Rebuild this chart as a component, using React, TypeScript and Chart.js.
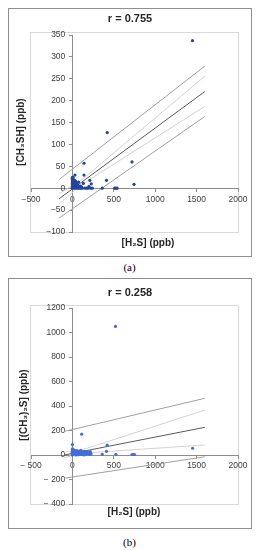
import React, { useEffect, useRef } from "react";
import { Chart, registerables } from "chart.js";
Chart.register(...registerables);

// ---------- Chart (a) data ----------
const titleA = "r = 0.755";
const xTitleA = "[H\u2082S] (ppb)";
const yTitleA = "[CH\u2083SH] (ppb)";
const xTicksA = [-500, 0, 500, 1000, 1500, 2000];
const yTicksA = [-100, -50, 0, 50, 100, 150, 200, 250, 300, 350];
const ptsXA = [1450, 420, 720, 744, 140, 140, 31, 412, 211, 228, 132, 360, 510, 525, 540,
  0, 0, 0, 0, 0, 0, 0, 0, 0, 0, 5, 8, 10, 12, 15, 18, 20, 22, 25, 28, 30, 35, 40, 42, 45, 50, 55, 60, 65, 70, 75, 80, 85, 95, 100, 110, 120, 150, 170, 190, 200, 220, 240];
const ptsYA = [337, 127, 60, 9, 57, 30, 30, 18, 18, 10, 11, 0, 0, 0, 0,
  25, 22, 20, 17, 14, 11, 8, 5, 2, 0, 19, 12, 24, 7, 3, 15, 10, 0, 18, 6, 13, 2, 16, 9, 0, 12, 4, 8, 0, 6, 14, 2, 0, 5, 0, 3, 0, 0, 0, 0, 4, 0, 0];
const fitXA = [-160, 1600];
const fitYA = [-24, 221];
const predUpYA = [20, 279];
const predLoYA = [-68, 164];
const confXA = [-160, 100, 1600];
const confUpYA = [-12, 17, 256];
const confLoYA = [-36, 7, 187];

// ---------- Chart (b) data ----------
const titleB = "r = 0.258";
const xTitleB = "[H\u2082S] (ppb)";
const yTitleB = "[(CH\u2083)\u2082S] (ppb)";
const xTicksB = [-500, 0, 500, 1000, 1500, 2000];
const yTicksB = [-400, -200, 0, 200, 400, 600, 800, 1000, 1200];
const ptsXB = [520, 112, 1452, 420, 412, 360, 525, 720, 735, 750, 0,
  0, 0, 0, 0, 0, 0, 0, 0, 10, 15, 20, 25, 30, 35, 40, 45, 50, 55, 60, 65, 70, 75, 80, 90, 95, 100, 110, 115, 125, 130, 140, 150, 160, 170, 180, 190, 200, 210, 215, 220, 225];
const ptsYB = [1050, 170, 55, 80, 30, 5, 6, 4, 4, 4, 85,
  50, 42, 35, 28, 20, 12, 5, 0, 45, 30, 15, 38, 8, 25, 32, 0, 18, 36, 10, 26, 3, 30, 14, 22, 6, 38, 16, 4, 28, 10, 0, 30, 18, 6, 25, 12, 20, 4, 28, 14, 8];
const fitXB = [-100, 1600];
const fitYB = [0, 226];
const predUpYB = [192, 463];
const predLoYB = [-190, -14];
const confXB = [-100, 100, 1600];
const confUpYB = [22, 38, 367];
const confLoYB = [-22, 14, 82];

const FONT = "'Liberation Sans', Arial, sans-serif";

type Spec = {
  title: string; xTitle: string; yTitle: string;
  xTicks: number[]; yTicks: number[];
  px: number[]; py: number[];
  fitX: number[]; fitY: number[]; predUp: number[]; predLo: number[];
  confX: number[]; confUp: number[]; confLo: number[];
  pointColor: string; minusSpace: boolean;
  height: number; padding: { top: number; bottom: number; left: number; right: number };
  titleY: number; xTitlePos: [number, number]; yTitlePos: [number, number];
};

const zip = (xs: number[], ys: number[]) => xs.map((x, i) => ({ x, y: ys[i] }));

function ScatterBox({ s }: { s: Spec }) {
  const ref = useRef<HTMLCanvasElement | null>(null);
  useEffect(() => {
    if (!ref.current) return;
    const fmt = (v: number) => (v < 0 ? (s.minusSpace ? "\u2212 " : "\u2212") + Math.abs(v) : String(v));
    const decor = {
      id: "decor",
      beforeDraw(chart: any) {
        const { ctx, chartArea: a } = chart;
        ctx.save();
        ctx.strokeStyle = "#d9d9d9";
        ctx.lineWidth = 1;
        ctx.strokeRect(Math.round(a.left) - 0.5, Math.round(a.top) - 2.5, Math.round(a.right - a.left) + 1, Math.round(a.bottom - a.top) + 3);
        ctx.restore();
      },
      afterDraw(chart: any) {
        const { ctx, width } = chart;
        ctx.save();
        ctx.fillStyle = "#262626";
        ctx.textAlign = "center";
        ctx.textBaseline = "middle";
        ctx.font = `bold 11px ${FONT}`;
        ctx.fillText(s.title, width / 2, s.titleY);
        ctx.font = `bold 10px ${FONT}`;
        ctx.fillText(s.xTitle, s.xTitlePos[0], s.xTitlePos[1]);
        ctx.translate(s.yTitlePos[0], s.yTitlePos[1]);
        ctx.rotate(-Math.PI / 2);
        ctx.fillText(s.yTitle, 0, 0);
        ctx.restore();
      },
    };
    const line = (xs: number[], ys: number[], color: string) => ({
      data: zip(xs, ys), showLine: true, pointRadius: 0, borderColor: color, borderWidth: 1, fill: false,
    });
    const chart = new Chart(ref.current, {
      type: "scatter",
      data: {
        datasets: [
          { data: zip(s.px, s.py), pointRadius: 1.6, pointBorderWidth: 0, backgroundColor: s.pointColor, borderColor: s.pointColor },
          line(s.fitX, s.fitY, "#5a5a5a"),
          line(s.fitX, s.predUp, "#a0a0a0"),
          line(s.fitX, s.predLo, "#a0a0a0"),
          line(s.confX, s.confUp, "#d3d3d3"),
          line(s.confX, s.confLo, "#d3d3d3"),
        ] as any,
      },
      options: {
        animation: false,
        responsive: false,
        maintainAspectRatio: false,
        layout: { padding: s.padding },
        plugins: { legend: { display: false }, tooltip: { enabled: false } },
        scales: {
          x: {
            type: "linear",
            position: { y: 0 } as any,
            min: s.xTicks[0], max: s.xTicks[s.xTicks.length - 1],
            afterBuildTicks: (sc: any) => { sc.ticks = s.xTicks.map((v) => ({ value: v })); },
            ticks: { callback: (v: any) => fmt(Number(v)), color: "#404040", font: { family: FONT, size: 8.5 }, padding: 3, maxRotation: 0 },
            grid: { drawOnChartArea: false, drawTicks: true, tickLength: 3, color: "#8c8c8c" },
            border: { display: true, color: "#8c8c8c" },
          },
          y: {
            type: "linear",
            position: { x: 0 } as any,
            min: s.yTicks[0], max: s.yTicks[s.yTicks.length - 1],
            afterBuildTicks: (sc: any) => { sc.ticks = s.yTicks.map((v) => ({ value: v })); },
            ticks: { callback: (v: any) => fmt(Number(v)) + "   ", color: "#404040", font: { family: FONT, size: 8.5 }, padding: 2 },
            grid: { drawOnChartArea: false, drawTicks: true, tickLength: 3, color: "#8c8c8c" },
            border: { display: true, color: "#8c8c8c" },
          },
        },
      } as any,
      plugins: [decor],
    });
    return () => chart.destroy();
  }, [s]);
  return <canvas ref={ref} width={242} height={s.height} style={{ display: "block", width: 242, height: s.height }} />;
}

const specA: Spec = {
  title: titleA, xTitle: xTitleA, yTitle: yTitleA, xTicks: xTicksA, yTicks: yTicksA,
  px: ptsXA, py: ptsYA, fitX: fitXA, fitY: fitYA, predUp: predUpYA, predLo: predLoYA,
  confX: confXA, confUp: confUpYA, confLo: confLoYA, pointColor: "#24449a", minusSpace: false,
  height: 247, padding: { top: 26, bottom: 24, left: 22, right: 13 },
  titleY: 10, xTitlePos: [139, 234], yTitlePos: [12, 123],
};
const specB: Spec = {
  title: titleB, xTitle: xTitleB, yTitle: yTitleB, xTicks: xTicksB, yTicks: yTicksB,
  px: ptsXB, py: ptsYB, fitX: fitXB, fitY: fitYB, predUp: predUpYB, predLo: predLoYB,
  confX: confXB, confUp: confUpYB, confLo: confLoYB, pointColor: "#3f6fdc", minusSpace: true,
  height: 249, padding: { top: 29, bottom: 24, left: 22, right: 13 },
  titleY: 14, xTitlePos: [125, 233], yTitlePos: [15, 126],
};

const boxStyle: React.CSSProperties = {
  position: "absolute", left: 0, width: 244, border: "1px solid #8f8f8f", boxSizing: "border-box", background: "#fff",
};
const capStyle: React.CSSProperties = {
  position: "absolute", left: -1, width: 245, textAlign: "center", font: "11px 'Liberation Serif', 'Times New Roman', serif", lineHeight: "14px", color: "#000",
};

export default function App() {
  return (
    <div style={{ position: "relative", width: 244, height: 540 }}>
      <div style={{ ...boxStyle, top: 0, height: 249 }}><ScatterBox s={specA} /></div>
      <div style={{ ...capStyle, top: 252 }}>(a)</div>
      <div style={{ ...boxStyle, top: 270, height: 251 }}><ScatterBox s={specB} /></div>
      <div style={{ ...capStyle, top: 527 }}>(b)</div>
    </div>
  );
}
